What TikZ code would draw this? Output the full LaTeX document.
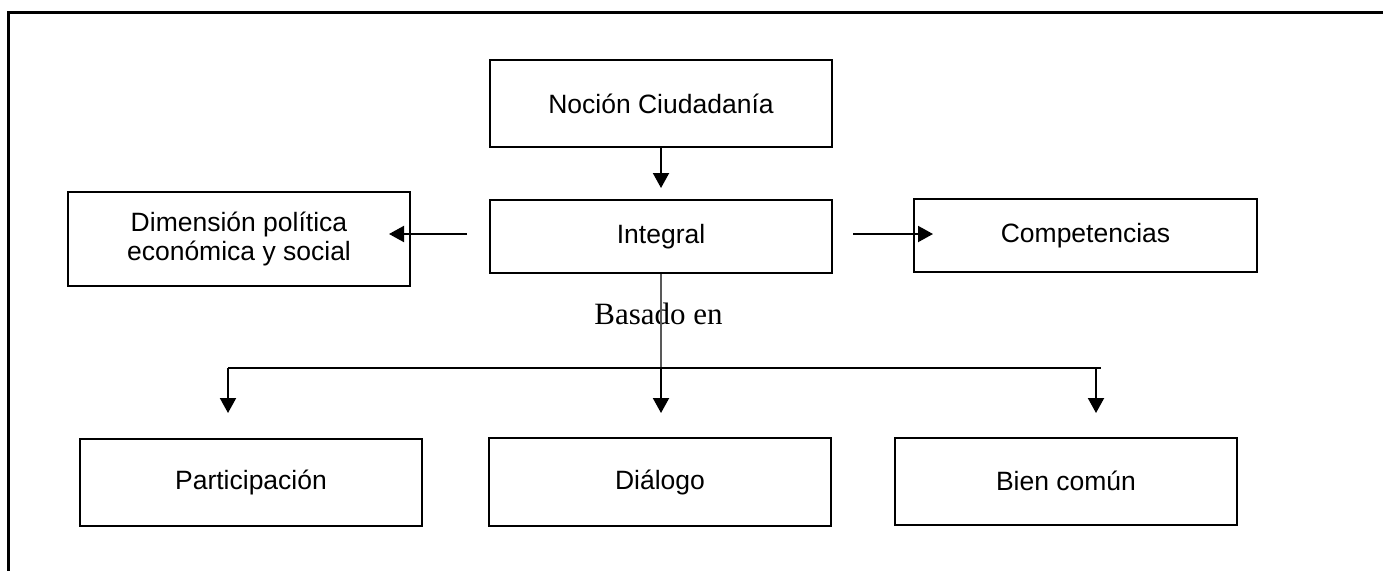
\documentclass[tikz,border=0pt]{standalone}
\usepackage{fontspec}
\setmainfont{Liberation Sans}
\newfontfamily\serifface{Liberation Serif}
\usetikzlibrary{arrows.meta}
\tikzset{
  box/.style={draw=black, line width=2pt, rectangle, minimum width=342pt, align=center,
    font=\fontsize{26.5}{29}\selectfont, inner sep=0pt},
  arr/.style={draw=black, line width=2pt, -{Triangle[length=15pt,width=16pt]}},
  thinline/.style={draw=black, line width=1.2pt},
  frameline/.style={draw=black, line width=3pt}
}
\begin{document}
\begin{tikzpicture}[x=1pt,y=-1pt]
\useasboundingbox (0,0) rectangle (1383,570);
\draw[frameline] (8,572) -- (8,12) -- (1385,12);

\node[box, minimum height=87pt] (noc) at (661,103.5) {Noción Ciudadanía};
\node[box, minimum height=73pt] (int) at (661,236.5) {Integral};
\node[box, minimum height=94pt] (dim) at (239,239) {Dimensión política\\económica y social};
\node[box, minimum height=73pt, minimum width=343pt] (comp) at (1085.5,235.5) {Competencias};
\node[box, minimum height=87pt] (part) at (251,482) {Participación};
\node[box, minimum height=88pt] (dial) at (660,482) {Diálogo};
\node[box, minimum height=87pt] (bien) at (1066,481) {Bien común};

\node[anchor=base, inner sep=0pt, font=\serifface\fontsize{31}{34}\selectfont] (bas) at (658.5,324) {Basado en};

\draw[arr] (noc.south) -- ([yshift=11pt]int.north);
\draw[arr] ([xshift=-22pt,yshift=2.5pt]int.west) -- ([xshift=-22pt,yshift=2.5pt]int.west -| dim.east);
\draw[arr] ([xshift=20pt,yshift=2.5pt]int.east) -- ([xshift=20pt,yshift=2.5pt]int.east -| comp.west);

\coordinate (hc) at (661,368);
\coordinate (hl) at (228,368);
\coordinate (hr) at (1101,368);
\coordinate (hrr) at (1096,368);
\draw[draw=black!65, line width=1.4pt] (int.south) -- (hc);
\draw[thinline] (hl) -- (hr);
\draw[arr] (hc) -- ([yshift=24pt]dial.north -| hc);
\draw[arr] (hl) -- ++(0,45);
\draw[arr] (hrr) -- ++(0,45);
\end{tikzpicture}
\end{document}
